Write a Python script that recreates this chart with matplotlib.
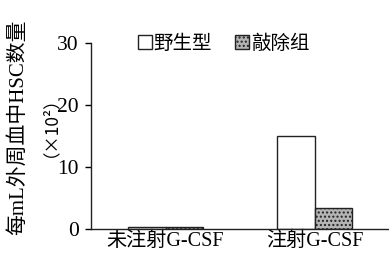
import matplotlib
matplotlib.use("Agg")
import matplotlib.pyplot as plt
import numpy as np
from matplotlib.patches import Patch

plt.rcParams['font.family'] = ['Liberation Serif', 'Noto Sans CJK SC']

categories = ["未注射G-CSF", "注射G-CSF"]
series_names = ["野生型", "敲除组"]
wild_type = [0.3, 15.0]
knockout = [0.3, 3.4]
yticks = [0, 10, 20, 30]

fig = plt.figure(figsize=(3.89, 2.62), dpi=100)
ax = fig.add_axes([0.234, 0.126, 0.766, 0.71])

x = np.arange(len(categories))
w = 0.253
ax.bar(x - w / 2, wild_type, w, facecolor='white', edgecolor='#222222', linewidth=1.0)
ax.bar(x + w / 2, knockout, w, facecolor='#b5b5b5', edgecolor='#222222', linewidth=1.0,
       hatch='....')

ax.set_xlim(-0.5, 1.5)
ax.set_ylim(0, 30)
ax.set_yticks(yticks)
ax.set_yticklabels([str(t) for t in yticks], fontsize=15.5)
ax.set_xticks(x)
ax.set_xticklabels(categories, fontsize=14.5)
ax.tick_params(axis='x', length=0, pad=2)
ax.tick_params(axis='y', length=4, width=1, pad=5)
for s in ['top', 'right']:
    ax.spines[s].set_visible(False)
for s in ['left', 'bottom']:
    ax.spines[s].set_linewidth(1.0)
    ax.spines[s].set_color('#222222')

handles = [Patch(facecolor='white', edgecolor='#222222'),
           Patch(facecolor='#b5b5b5', edgecolor='#222222', hatch='....')]
fig.legend(handles, series_names, loc='center', bbox_to_anchor=(0.575, 0.835),
           ncol=2, frameon=False, handlelength=0.7, handleheight=0.7,
           handletextpad=0.1, columnspacing=1.2, prop={'family': ['Noto Sans CJK SC'], 'size': 14})

fig.text(0.046, 0.513, "每mL外周血中HSC数量", rotation=90, ha='center', va='center', fontsize=15)
fig.text(0.105, 0.55, "（×10²）", rotation=90, ha='center', va='center', fontsize=12.5,
         family=['Noto Sans CJK SC', 'DejaVu Sans'])

fig.savefig("out.png", dpi=100)
